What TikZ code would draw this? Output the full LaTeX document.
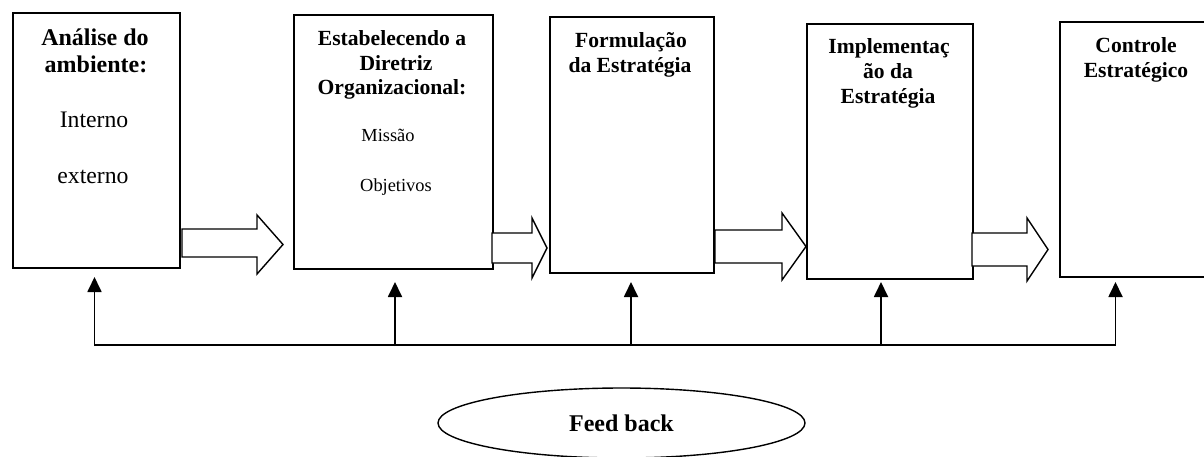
\documentclass[tikz,border=0pt]{standalone}
\usepackage{fontspec}
\setmainfont{Liberation Serif}
\usetikzlibrary{arrows.meta,shapes.geometric}

% hollow block arrow: shaft x0..x1 (y between ys1 and ys2), head base at x1 (y between yh1 and yh2), tip at x2
\newcommand\flowarrow[7]{%
  \draw[flow] (#1,#4) -- (#2,#4) -- (#2,#6) -- (#3,{(#6+#7)/2}) -- (#2,#7) -- (#2,#5) -- (#1,#5) -- cycle;}

\begin{document}
\begin{tikzpicture}[x=1pt,y=-1pt,
  stage/.style={draw,line width=1.6pt,fill=white,inner sep=0,anchor=north west},
  hd/.style={font=\bfseries\fontsize{21.6}{24}\selectfont,anchor=base,inner sep=0},
  hdbig/.style={font=\bfseries\fontsize{24}{26}\selectfont,anchor=base,inner sep=0},
  sub/.style={font=\fontsize{18.4}{20}\selectfont,anchor=base,inner sep=0},
  subbig/.style={font=\fontsize{23.7}{26}\selectfont,anchor=base,inner sep=0},
  flow/.style={draw,line width=1.4pt,fill=white,line join=miter},
  fbarrow/.style={line width=1.8pt,-{Triangle[length=15pt,width=14pt]}},
]
\clip (0,0) rectangle (1204,456);
\fill[white] (0,0) rectangle (1204,456);

% stage boxes
\node[stage,minimum width=167pt,minimum height=255pt] (b1) at (12,12) {};
\node[stage,minimum width=199pt,minimum height=254pt] (b2) at (293,14) {};
\node[stage,minimum width=164pt,minimum height=256pt] (b3) at (549,16) {};
\node[stage,minimum width=166pt,minimum height=255pt] (b4) at (806,23) {};
\node[stage,minimum width=160pt,minimum height=255pt] (b5) at (1059,21) {};

% box texts
\node[hdbig] (t1a) at (95,45) {Análise do};
\node[hdbig] (t1b) at (96,72.5) {ambiente:};
\node[subbig] (t1c) at (94,127.5) {Interno};
\node[subbig] (t1d) at (93,183) {externo};

\node[hd] (t2a) at (392,45) {Estabelecendo a};
\node[hd] (t2b) at (396,70) {Diretriz};
\node[hd] (t2c) at (392,94.5) {Organizacional:};
\node[sub] (t2d) at (388,141.5) {Missão};
\node[sub] (t2e) at (396,191) {Objetivos};

\node[hd] (t3a) at (631,47) {Formulação};
\node[hd] (t3b) at (630,72) {da Estratégia};

\node[hd] (t4a) at (889,53.5) {Implementaç};
\node[hd] (t4b) at (888,78) {ão da};
\node[hd] (t4c) at (888,103) {Estratégia};

\node[hd] (t5a) at (1136,52) {Controle};
\node[hd] (t5b) at (1136,77) {Estratégico};

% block arrows between stages
\flowarrow{182}{257}{283}{229}{257}{215}{274}
\flowarrow{492}{532}{547}{233}{263}{218}{278}
\flowarrow{715}{782}{806}{230}{263}{213}{280}
\flowarrow{972}{1027}{1048}{233}{266}{218}{281}

% feedback bus
\coordinate (f1) at (94.5,346);
\coordinate (f2) at (395,346);
\coordinate (f3) at (631,346);
\coordinate (f4) at (881,346);
\coordinate (f5) at (1115.5,346);
\coordinate (u1) at (94.5,277);
\coordinate (u2) at (395,282);
\coordinate (u3) at (631,282);
\coordinate (u4) at (881,282);
\coordinate (u5) at (1115.5,282);
\draw[line width=2.2pt] ([yshift=1pt]f1) -- ([yshift=1pt]f5);
\foreach \i in {1,...,5}{\draw[fbarrow] (f\i) -- (u\i);}

% feedback label
\node[draw,ellipse,line width=1.4pt,inner sep=0,minimum width=367pt,minimum height=70pt,
      font=\bfseries\fontsize{24}{26}\selectfont] (fb) at (621.5,423) {Feed back};
\end{tikzpicture}
\end{document}
